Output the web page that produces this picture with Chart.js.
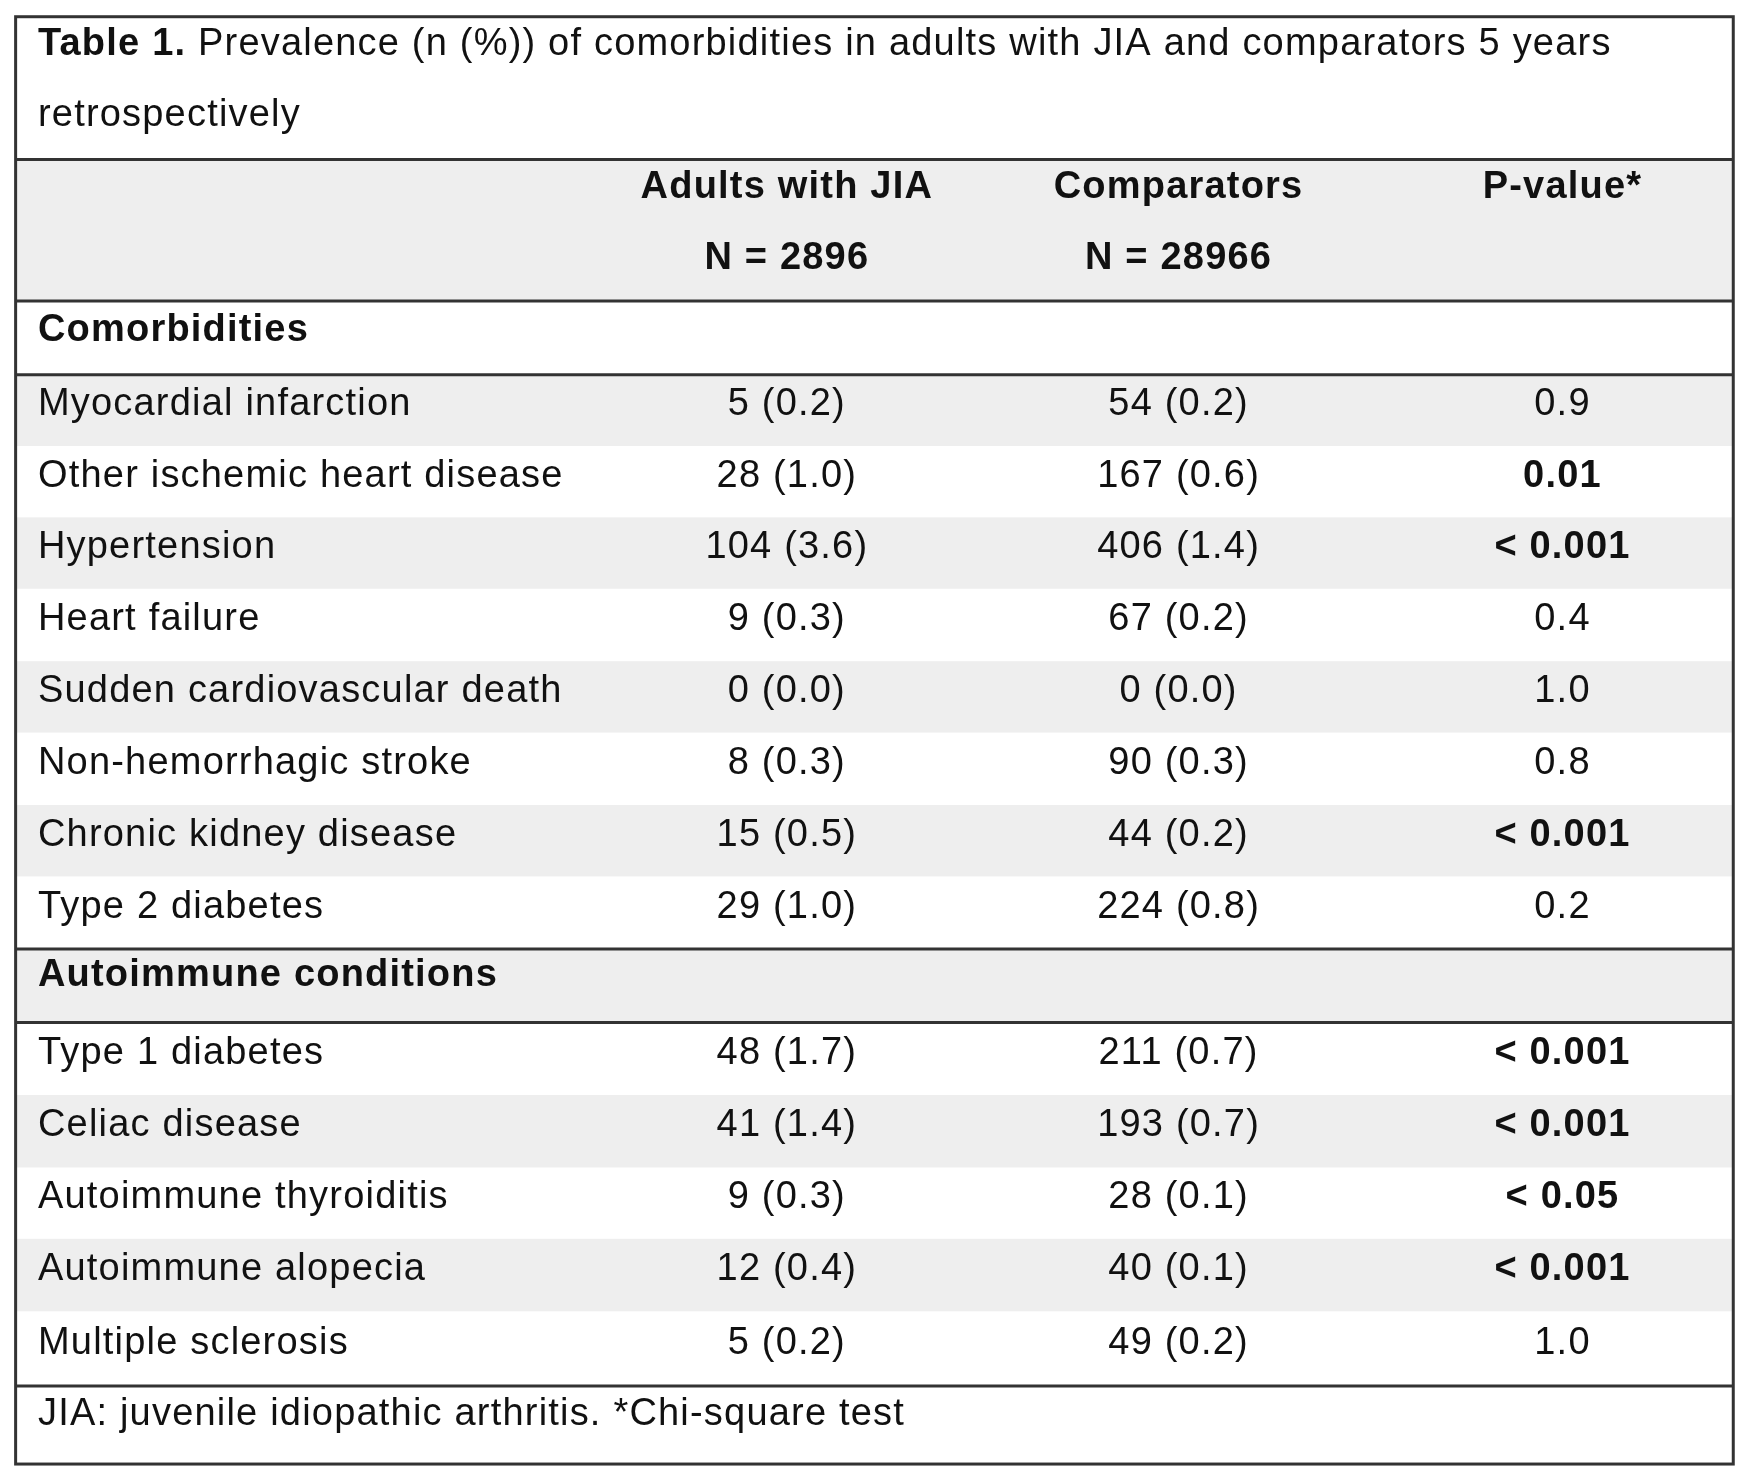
<!DOCTYPE html>
<html><head><meta charset="utf-8">
<script src="https://cdn.jsdelivr.net/npm/chart.js@4"></script>
<style>html,body{margin:0;padding:0;background:#fff}</style>
</head><body>
<canvas id="c" width="1750" height="1483"></canvas>
<script>
const titleBold = "Table 1.";
const titleRest = " Prevalence (n (%)) of comorbidities in adults with JIA and comparators 5 years";
const titleLine2 = "retrospectively";
const columnHeaders = [["Adults with JIA","N = 2896"],["Comparators","N = 28966"],["P-value*",""]];
const section1 = "Comorbidities";
const comorbidities = ["Myocardial infarction","Other ischemic heart disease","Hypertension","Heart failure","Sudden cardiovascular death","Non-hemorrhagic stroke","Chronic kidney disease","Type 2 diabetes"];
const comorbJIA = ["5 (0.2)","28 (1.0)","104 (3.6)","9 (0.3)","0 (0.0)","8 (0.3)","15 (0.5)","29 (1.0)"];
const comorbComp = ["54 (0.2)","167 (0.6)","406 (1.4)","67 (0.2)","0 (0.0)","90 (0.3)","44 (0.2)","224 (0.8)"];
const comorbP = ["0.9","0.01","< 0.001","0.4","1.0","0.8","< 0.001","0.2"];
const comorbSig = [false,true,true,false,false,false,true,false];
const section2 = "Autoimmune conditions";
const autoimmune = ["Type 1 diabetes","Celiac disease","Autoimmune thyroiditis","Autoimmune alopecia","Multiple sclerosis"];
const autoJIA = ["48 (1.7)","41 (1.4)","9 (0.3)","12 (0.4)","5 (0.2)"];
const autoComp = ["211 (0.7)","193 (0.7)","28 (0.1)","40 (0.1)","49 (0.2)"];
const autoP = ["< 0.001","< 0.001","< 0.05","< 0.001","1.0"];
const autoSig = [true,true,true,true,false];
const footnote = "JIA: juvenile idiopathic arthritis. *Chi-square test";

// layout (in table units)
const L = {left:14,right:1553,top:15,bottom:1313,titleBottom:143,headBottom:270,sec1Bottom:336,
  rows1:[336,400,464,528,593,657,722,786,851],sec2Bottom:917,rows2:[917,982,1047,1111,1176,1243],
  labelX:34,colX:[705,1056,1400]};
const FS=38;
const FONT='"Liberation Sans", Arial, sans-serif';

const tablePlugin={id:'table',afterDraw(chart){
  const ctx=chart.ctx,xs=chart.scales.x,ys=chart.scales.y;
  const X=v=>xs.getPixelForValue(v),Y=v=>ys.getPixelForValue(v);
  ctx.save();
  const fillRow=(a,b,c)=>{ctx.fillStyle=c;ctx.fillRect(X(L.left),Y(a),X(L.right)-X(L.left),Y(b)-Y(a));};
  fillRow(L.titleBottom,L.headBottom,'#eeeeee');
  L.rows1.slice(0,-1).forEach((a,i)=>{if(i%2===0)fillRow(a,L.rows1[i+1],'#eeeeee');});
  fillRow(L.rows1[8],L.sec2Bottom,'#eeeeee');
  L.rows2.slice(0,-1).forEach((a,i)=>{if(i%2===1)fillRow(a,L.rows2[i+1],'#eeeeee');});
  ctx.strokeStyle='#333';ctx.lineWidth=3;
  ctx.strokeRect(X(L.left),Y(L.top),X(L.right)-X(L.left),Y(L.bottom)-Y(L.top));
  [L.titleBottom,L.headBottom,L.sec1Bottom,L.rows1[8],L.sec2Bottom,L.rows2[5]].forEach(y=>{
    ctx.beginPath();ctx.moveTo(X(L.left),Y(y));ctx.lineTo(X(L.right),Y(y));ctx.stroke();});
  ctx.fillStyle='#111';ctx.textBaseline='middle';
  try{ctx.letterSpacing='1.2px';}catch(e){}
  const txt=(s,x,y,bold,align)=>{ctx.font=(bold?'bold ':'')+FS+'px '+FONT;ctx.textAlign=align||'left';ctx.fillText(s,X(x),Y(y));};
  ctx.font='bold '+FS+'px '+FONT;const w=ctx.measureText(titleBold).width;
  txt(titleBold,L.labelX,40,true);
  ctx.font=FS+'px '+FONT;ctx.textAlign='left';ctx.fillText(titleRest,X(L.labelX)+w,Y(40));
  txt(titleLine2,L.labelX,104,false);
  columnHeaders.forEach((h,i)=>{txt(h[0],L.colX[i],168,true,'center');if(h[1])txt(h[1],L.colX[i],232,true,'center');});
  txt(section1,L.labelX,296,true);
  const drawRows=(edges,labels,a,b,p,sig)=>labels.forEach((lab,i)=>{
    const y=(edges[i]+edges[i+1])/2-5;
    txt(lab,L.labelX,y,false);txt(a[i],L.colX[0],y,false,'center');txt(b[i],L.colX[1],y,false,'center');txt(p[i],L.colX[2],y,sig[i],'center');});
  drawRows(L.rows1,comorbidities,comorbJIA,comorbComp,comorbP,comorbSig);
  txt(section2,L.labelX,875,true);
  drawRows(L.rows2,autoimmune,autoJIA,autoComp,autoP,autoSig);
  txt(footnote,L.labelX,1269,false);
  ctx.restore();
}};

new Chart(document.getElementById('c'),{type:'scatter',data:{datasets:[{data:[]}]},
  options:{responsive:false,animation:false,devicePixelRatio:1,layout:{padding:0},
    plugins:{legend:{display:false},tooltip:{enabled:false}},
    scales:{x:{type:'linear',min:0,max:1568,display:false},y:{type:'linear',min:0,max:1330,reverse:true,display:false}}},
  plugins:[tablePlugin]});
</script>
</body></html>
